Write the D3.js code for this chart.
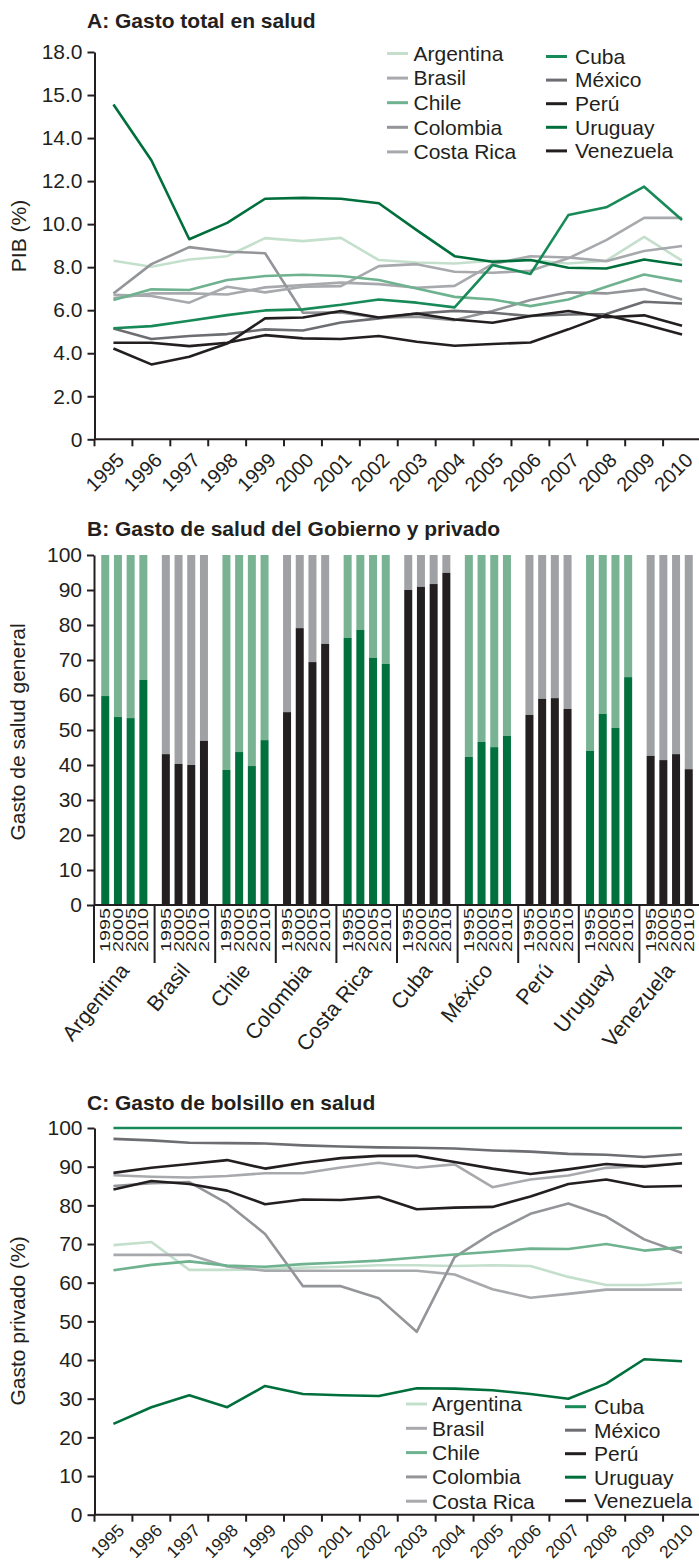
<!DOCTYPE html>
<html><head><meta charset="utf-8">
<script src="https://cdn.jsdelivr.net/npm/d3@7"></script>
<style>
body{margin:0;background:#fff}
svg{display:block}
text{font-family:"Liberation Sans",Arial,Helvetica,sans-serif;fill:#231f20}
</style>
</head><body>
<svg id="chart" width="699" height="1563"></svg>
<script>
// ---------- shared categories ----------
const years = ["1995","1996","1997","1998","1999","2000","2001","2002","2003","2004","2005","2006","2007","2008","2009","2010"];
const countries = ["Argentina","Brasil","Chile","Colombia","Costa Rica","Cuba","México","Perú","Uruguay","Venezuela"];
const lineColors = ["#c4e0cd","#a7a9ac","#6fb28f","#939598","#a7a9ac","#178a58","#6d6e71","#231f20","#006f3c","#231f20"];

// ---------- Panel A: gasto total en salud (% PIB) ----------
const pibArgentina  = [8.30,8.02,8.36,8.51,9.35,9.21,9.36,8.33,8.22,8.17,8.30,8.33,8.17,8.30,9.41,8.30];
const pibBrasil     = [6.55,6.78,6.78,6.73,7.06,7.17,7.28,7.21,7.04,7.13,8.14,8.51,8.45,8.28,8.75,8.98];
const pibChile      = [6.47,6.97,6.94,7.40,7.59,7.65,7.59,7.40,7.01,6.62,6.50,6.19,6.50,7.09,7.66,7.34];
const pibColombia   = [6.78,8.14,8.93,8.72,8.65,5.88,5.90,5.65,5.70,5.54,5.96,6.47,6.83,6.78,6.98,6.50];
const pibCostaRica  = [6.71,6.66,6.35,7.09,6.83,7.09,7.12,8.05,8.14,7.79,7.74,7.83,8.41,9.26,10.29,10.29];
const pibCuba       = [5.16,5.26,5.51,5.77,5.99,6.04,6.25,6.50,6.35,6.13,8.10,7.68,10.42,10.78,11.74,10.19];
const pibMexico     = [5.15,4.66,4.80,4.89,5.11,5.06,5.43,5.62,5.85,5.97,5.88,5.73,5.80,5.82,6.39,6.31];
const pibPeru       = [4.49,4.49,4.33,4.49,4.84,4.69,4.66,4.80,4.53,4.35,4.43,4.50,5.11,5.77,5.35,4.87];
const pibUruguay    = [15.56,12.97,9.30,10.06,11.18,11.22,11.18,10.97,9.72,8.51,8.25,8.33,7.97,7.94,8.36,8.10];
const pibVenezuela  = [4.22,3.48,3.84,4.45,5.62,5.66,5.96,5.66,5.85,5.57,5.42,5.73,5.96,5.67,5.76,5.28];
const pibTickValues = [0,2,4,6,8,10,12,14,16,18];
const pibTickLabels = ["0","2.0","4.0","6.0","8.0","10.0","12.0","14.0","15.0","18.0"];

// ---------- Panel B: gasto del Gobierno (% del gasto general) ----------
const barYears = ["1995","2000","2005","2010"];
const gobArgentina = [59.7,53.7,53.4,64.3];
const gobBrasil    = [43.1,40.3,40.0,46.9];
const gobChile     = [38.6,43.7,39.7,47.1];
const gobColombia  = [55.1,79.1,69.4,74.6];
const gobCostaRica = [76.3,78.6,70.6,68.9];
const gobCuba      = [90.0,90.9,91.7,94.9];
const gobMexico    = [42.3,46.6,45.1,48.3];
const gobPeru      = [54.3,58.9,59.1,56.0];
const gobUruguay   = [44.0,54.6,50.6,65.1];
const gobVenezuela = [42.6,41.4,43.1,38.8];
const pctTickValues = [0,10,20,30,40,50,60,70,80,90,100];

// ---------- Panel C: gasto de bolsillo (% del gasto privado) ----------
const bolArgentina = [69.7,70.5,63.3,63.3,63.5,63.9,64.1,64.5,64.5,64.3,64.5,64.3,61.5,59.4,59.4,60.0];
const bolBrasil    = [67.2,67.2,67.2,64.2,63.1,63.1,63.1,63.1,63.1,62.1,58.3,56.1,57.1,58.2,58.2,58.2];
const bolChile     = [63.2,64.6,65.5,64.4,64.1,64.8,65.2,65.7,66.5,67.3,68.0,68.8,68.7,70.0,68.3,69.2];
const bolColombia  = [85.0,85.7,86.0,80.5,72.6,59.1,59.1,56.0,47.3,66.6,72.8,77.8,80.5,77.1,71.2,67.7];
const bolCostaRica = [87.8,87.4,87.2,87.6,88.3,88.3,89.8,91.0,89.7,90.6,84.7,86.7,87.7,89.7,90.2,90.9];
const bolCuba      = [100,100,100,100,100,100,100,100,100,100,100,100,100,100,100,100];
const bolMexico    = [97.2,96.8,96.2,96.1,96.0,95.5,95.2,95.0,94.9,94.7,94.2,93.9,93.3,93.1,92.5,93.2];
const bolPeru      = [88.4,89.7,90.7,91.7,89.5,91.0,92.2,92.8,92.8,91.2,89.5,88.1,89.3,90.7,90.0,90.9];
const bolUruguay   = [23.5,27.8,30.9,27.8,33.3,31.2,30.9,30.7,32.7,32.6,32.2,31.2,30.0,33.9,40.2,39.7];
const bolVenezuela = [84.1,86.3,85.5,83.8,80.3,81.5,81.4,82.2,79.0,79.4,79.6,82.3,85.5,86.7,84.8,85.0];

const pibSeries = [pibArgentina,pibBrasil,pibChile,pibColombia,pibCostaRica,pibCuba,pibMexico,pibPeru,pibUruguay,pibVenezuela];
const gobSeries = [gobArgentina,gobBrasil,gobChile,gobColombia,gobCostaRica,gobCuba,gobMexico,gobPeru,gobUruguay,gobVenezuela];
const bolSeries = [bolArgentina,bolBrasil,bolChile,bolColombia,bolCostaRica,bolCuba,bolMexico,bolPeru,bolUruguay,bolVenezuela];

const INK = "#231f20";
const FONT_TICK = 21;
const svg = d3.select("#chart");

function title(txt, y){
  svg.append("text").attr("x",87).attr("y",y).attr("font-weight","bold")
    .attr("font-size",21).text(txt);
}
function yTitle(txt, x, y){
  svg.append("text").attr("transform",`translate(${x},${y}) rotate(-90)`)
    .attr("text-anchor","middle").attr("font-size",21).text(txt);
}
function yAxis(scale, x, values, labels){
  const g = svg.append("g").attr("transform",`translate(${x},0)`)
    .call(d3.axisLeft(scale).tickValues(values).tickSize(7).tickSizeOuter(0).tickPadding(5)
      .tickFormat((d,i)=> labels ? labels[i] : String(d)));
  g.select(".domain").attr("stroke",INK).attr("stroke-width",2);
  g.selectAll(".tick line").attr("stroke",INK).attr("stroke-width",2);
  g.selectAll(".tick text").attr("font-size",FONT_TICK).attr("fill",INK)
    .attr("font-family","'Liberation Sans',Arial,sans-serif");
  return g;
}
function xYearAxis(x, y0, fs, off){
  svg.append("line").attr("x1",x.range()[0]).attr("x2",x.range()[1])
    .attr("y1",y0).attr("y2",y0).attr("stroke",INK).attr("stroke-width",2);
  years.forEach(yr=>{
    const bx = x(yr);
    svg.append("line").attr("x1",bx).attr("x2",bx).attr("y1",y0).attr("y2",y0+7)
      .attr("stroke",INK).attr("stroke-width",2);
    const cx = bx + x.bandwidth()/2 + 12, cy = y0 + off;
    svg.append("text").attr("transform",`translate(${cx},${cy}) rotate(-45)`)
      .attr("text-anchor","end").attr("font-size",fs).text(yr);
  });
}
function lines(x, y, series, order){
  const line = d3.line().x((d,i)=> x(years[i]) + x.bandwidth()/2).y(d=>y(d));
  order.forEach(k=>{
    svg.append("path").datum(series[k]).attr("d",line).attr("fill","none")
      .attr("stroke",lineColors[k]).attr("stroke-width",2.6)
      .attr("stroke-linejoin","round");
  });
}
function legend(lx, tx, y0, dy, idx){
  idx.forEach((k,i)=>{
    const yy = y0 + i*dy;
    svg.append("line").attr("x1",lx).attr("x2",lx+21).attr("y1",yy).attr("y2",yy)
      .attr("stroke",lineColors[k]).attr("stroke-width",3);
    svg.append("text").attr("x",tx).attr("y",yy).attr("dy","0.35em")
      .attr("font-size",21).text(countries[k]);
  });
}
const drawOrder = [0,1,3,4,6,2,9,7,5,8];

// ================= Panel A =================
title("A: Gasto total en salud", 28);
const xA = d3.scaleBand().domain(years).range([94.5,701]);
const yA = d3.scaleLinear().domain([0,18]).range([439.3,52]);
yTitle("PIB (%)", 26, 236);
lines(xA, yA, pibSeries, drawOrder);
yAxis(yA, 94.5, pibTickValues, pibTickLabels);
xYearAxis(xA, 439.3, 20, 22);
legend(387, 413.5, 53.5, 24.6, [0,1,2,3,4]);
legend(546, 575, 56.5, 23.6, [5,6,7,8,9]);

// ================= Panel B =================
title("B: Gasto de salud del Gobierno y privado", 536);
const x0 = d3.scaleBand().domain(countries).range([94,700]);
const x1 = d3.scaleBand().domain(barYears).range([0,x0.bandwidth()]).paddingInner(0.37).paddingOuter(0.57);
const yB = d3.scaleLinear().domain([0,100]).range([905,555]);
yTitle("Gasto de salud general", 25, 732);
const barColors = {green:["#00703c","#79b394"], black:[INK,"#a0a1a4"]};
countries.forEach((c,ci)=>{
  const pal = ci % 2 === 0 ? barColors.green : barColors.black;
  const g = svg.append("g").attr("transform",`translate(${x0(c)},0)`);
  g.selectAll("rect.priv").data(gobSeries[ci]).enter().append("rect")
    .attr("x",(d,i)=>x1(barYears[i])).attr("width",x1.bandwidth())
    .attr("y",yB(100)).attr("height",d=>yB(d)-yB(100)).attr("fill",pal[1]);
  g.selectAll("rect.gob").data(gobSeries[ci]).enter().append("rect")
    .attr("x",(d,i)=>x1(barYears[i])).attr("width",x1.bandwidth())
    .attr("y",d=>yB(d)).attr("height",d=>yB(0)-yB(d)).attr("fill",pal[0]);
  barYears.forEach(yr=>{
    const cx = x0(c) + x1(yr) + x1.bandwidth()/2;
    svg.append("text").attr("transform",`translate(${cx},908) rotate(-90)`)
      .attr("text-anchor","end").attr("dy","0.36em").attr("font-size",14)
      .attr("textLength",44).attr("lengthAdjust","spacingAndGlyphs").text(yr);
  });
  svg.append("line").attr("x1",x0(c)).attr("x2",x0(c)).attr("y1",905).attr("y2",963)
    .attr("stroke",INK).attr("stroke-width",2);
  const lx = x0(c) + x0.bandwidth()/2 + 6;
  svg.append("text").attr("transform",`translate(${lx},971) rotate(-51)`)
    .attr("text-anchor","end").attr("font-size",21.5).text(c);
});
yAxis(yB, 94, pctTickValues);
svg.append("line").attr("x1",94).attr("x2",700).attr("y1",905).attr("y2",905)
  .attr("stroke",INK).attr("stroke-width",2);

// ================= Panel C =================
title("C: Gasto de bolsillo en salud", 1110);
const yC = d3.scaleLinear().domain([0,100]).range([1514.7,1128]);
yTitle("Gasto privado (%)", 25, 1321);
lines(xA, yC, bolSeries, drawOrder);
yAxis(yC, 94.5, pctTickValues);
xYearAxis(xA, 1514.7, 17.5, 17);
legend(406, 432, 1404, 24.3, [0,1,2,3,4]);
legend(565, 594, 1406.7, 23.5, [5,6,7,8,9]);
</script>
</body></html>
